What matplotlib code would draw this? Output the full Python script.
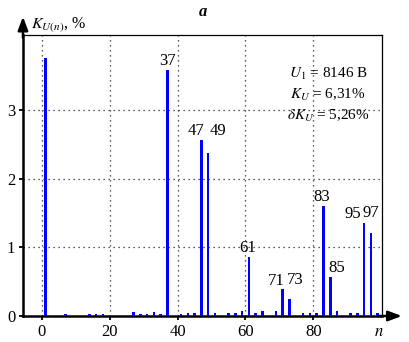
import numpy as np
import matplotlib.pyplot as plt

plt.rcParams['font.family'] = ['Liberation Serif', 'DejaVu Serif']
plt.rcParams['mathtext.fontset'] = 'stix'

# harmonic spectrum ###################################################
harm = [1, 7, 14, 16, 18, 27, 29, 31, 33, 35, 37, 41, 43, 45, 47, 49, 51,
        55, 57, 59, 61, 63, 65, 69, 71, 73, 77, 79, 81, 83, 85, 87, 91, 93,
        95, 97, 99]
kun = [3.76, 0.03, 0.03, 0.03, 0.03, 0.06, 0.03, 0.03, 0.06, 0.03, 3.58,
       0.03, 0.04, 0.04, 2.56, 2.37, 0.04, 0.04, 0.04, 0.07, 0.86, 0.04,
       0.08, 0.08, 0.39, 0.25, 0.04, 0.04, 0.04, 1.60, 0.57, 0.07, 0.04,
       0.04, 1.36, 1.21, 0.04]

labelled = [37, 47, 49, 61, 71, 73, 83, 85, 95, 97]
label_dx = {37: 0, 47: -4, 49: 7, 61: -1, 71: -5, 73: 4, 83: -1, 85: 5,
            95: -8, 97: 0}   # horizontal shift in points
label_dy = {47: 0, 49: 10, 71: 0, 73: 7, 95: 0, 97: 8}

xticks = [0, 20, 40, 60, 80]
yticks = [0, 1, 2, 3]

fig = plt.figure(figsize=(4.1, 3.42), dpi=100)
ax = fig.add_axes([0.056, 0.076, 0.876, 0.822])

ax.bar(harm, kun, width=0.75, color='#0000ff', zorder=3)

for n in labelled:
    v = kun[harm.index(n)]
    ax.annotate(str(n), (n, v), xytext=(label_dx.get(n, 0), 0.5 + label_dy.get(n, 0)),
                textcoords='offset points', ha='center', va='bottom',
                fontsize=12, zorder=4)

ax.set_xlim(-5.6, 100.3)
ax.set_ylim(0, 4.09)
ax.set_xticks(xticks)
ax.set_yticks(yticks)
ax.tick_params(labelsize=12, length=3, width=1.3, direction='out', pad=2.5)
ax.grid(True, color='0.15', linestyle=(0, (1, 3)), linewidth=0.9)
ax.set_axisbelow(True)

ax.spines['bottom'].set_linewidth(1.8)
ax.spines['left'].set_linewidth(1.8)
ax.spines['top'].set_linewidth(0.9)
ax.spines['right'].set_linewidth(0.9)

# axis arrows
ax.annotate('', xy=(1.055, 0), xytext=(0.99, 0), xycoords='axes fraction',
            arrowprops=dict(arrowstyle='-|>,head_length=0.8,head_width=0.3',
                            color='black', lw=1.8, shrinkA=0, shrinkB=0),
            annotation_clip=False)
ax.annotate('', xy=(0, 1.065), xytext=(0, 0.99), xycoords='axes fraction',
            arrowprops=dict(arrowstyle='-|>,head_length=0.8,head_width=0.3',
                            color='black', lw=1.8, shrinkA=0, shrinkB=0),
            annotation_clip=False)

ax.text(0.022, 1.035, r'$K_{U(n)}$, %', transform=ax.transAxes, fontsize=11.5,
        ha='left', va='center')
ax.text(0.99, -0.03, r'$n$', transform=ax.transAxes, fontsize=12,
        ha='center', va='top')
ax.text(0.5, 1.08, 'a', transform=ax.transAxes, fontsize=12,
        fontweight='bold', fontstyle='italic', ha='center', va='center')

ax.text(0.85, 0.86, r'$U_1$ = 8146 В', transform=ax.transAxes, fontsize=11,
        ha='center', va='center')
ax.text(0.85, 0.785, r'$K_U$ = 6,31%', transform=ax.transAxes, fontsize=11,
        ha='center', va='center')
ax.text(0.85, 0.71, r'$\delta K_U$ = 5,26%', transform=ax.transAxes, fontsize=11,
        ha='center', va='center')

fig.savefig('out.png', dpi=100)
